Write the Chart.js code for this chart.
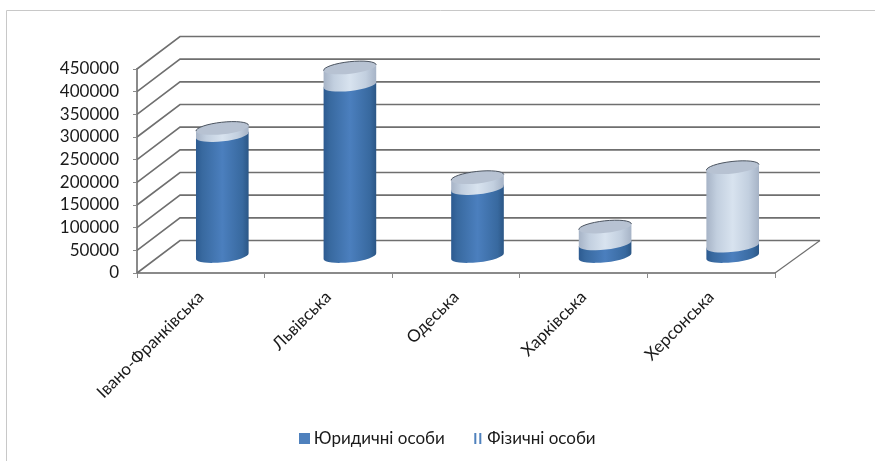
<!DOCTYPE html>
<html>
<head>
<meta charset="utf-8">
<script src="https://cdn.jsdelivr.net/npm/chart.js@4/dist/chart.umd.js"></script>
<style>
  html, body { margin: 0; padding: 0; background: #fff; }
  #wrap { width: 875px; height: 461px; }
</style>
</head>
<body>
<div id="wrap"><canvas id="myChart" width="875" height="461"></canvas></div>
<script>
const categories = ["Івано-Франківська", "Львівська", "Одеська", "Харківська", "Херсонська"];
const legalPersons = [268000, 379000, 151000, 29000, 24000];
const individuals = [15500, 38000, 24000, 37000, 173000];

// depth of the fake 3d box, in pixels
const depthX = 43;
const depthY = -32.5;
const tilt = -0.11;
const capRadiusY = 6;

function sideGradient(ctx, left, right, stops) {
  const g = ctx.createLinearGradient(left, 0, right, 0);
  stops.forEach((s) => g.addColorStop(s[0], s[1]));
  return g;
}

const seriesLook = [
  { stops: [[0, "#2c5a90"], [0.12, "#38699f"], [0.5, "#4b7fbe"], [0.88, "#38699f"], [1, "#2b5685"]], top: "#4f81bd" },
  { stops: [[0, "#a6b3c6"], [0.2, "#c2cfdf"], [0.5, "#d8e3ef"], [0.8, "#c2cfdf"], [1, "#a6b3c6"]], top: "#b7c2d2" }
];

// back wall, side wall and floor behind the bars
const boxPlugin = {
  id: "box",
  beforeDatasetsDraw(chart) {
    const ctx = chart.ctx;
    const y = chart.scales.y;
    const a = chart.chartArea;
    ctx.save();
    ctx.strokeStyle = "#6f6f6f";
    ctx.lineWidth = 1.6;
    y.ticks.forEach((t) => {
      const py = y.getPixelForValue(t.value);
      ctx.beginPath();
      ctx.moveTo(a.left, py);
      ctx.lineTo(a.left + depthX, py + depthY);
      ctx.lineTo(a.right + depthX + 2, py + depthY);
      ctx.stroke();
    });
    const floor = y.getPixelForValue(0);
    ctx.lineWidth = 1.2;
    ctx.beginPath();
    ctx.moveTo(a.right, floor);
    ctx.lineTo(a.right + depthX + 2, floor + depthY);
    ctx.stroke();
    ctx.restore();
  },
  beforeDraw(chart) {
    const ctx = chart.ctx;
    ctx.save();
    ctx.strokeStyle = "#c8c8c8";
    ctx.lineWidth = 1;
    ctx.beginPath();
    ctx.moveTo(6.5, chart.height);
    ctx.lineTo(6.5, 10.5);
    ctx.lineTo(chart.width, 10.5);
    ctx.stroke();
    ctx.restore();
  }
};

// draws each stacked bar element as a cylinder standing mid-way in the box
const cylinderPlugin = {
  id: "cylinder",
  beforeDatasetDraw() {
    return false; // plain rectangles are replaced below
  },
  afterDatasetsDraw(chart) {
    const ctx = chart.ctx;
    const lastSeries = chart.data.datasets.length - 1;
    // bottom series first, the library itself would go the other way round
    chart.data.datasets.forEach((ds, i) => {
      const look = seriesLook[i];
      chart.getDatasetMeta(i).data.forEach((bar) => {
        const cx = bar.x + depthX / 2;
        const rx = bar.width / 2;
        const topY = bar.y + depthY / 2;
        const baseY = bar.base + depthY / 2;
        ctx.save();
        ctx.beginPath();
        ctx.ellipse(cx, baseY, rx, capRadiusY, tilt, 0, Math.PI);
        ctx.ellipse(cx, topY, rx, capRadiusY, tilt, Math.PI, 2 * Math.PI);
        ctx.closePath();
        ctx.fillStyle = sideGradient(ctx, cx - rx, cx + rx, look.stops);
        ctx.fill();
        if (i === lastSeries) {
          ctx.beginPath();
          ctx.ellipse(cx, topY, rx, capRadiusY, tilt, 0, 2 * Math.PI);
          ctx.fillStyle = look.top;
          ctx.fill();
          ctx.beginPath();
          ctx.ellipse(cx, topY, rx, capRadiusY, tilt, Math.PI, 2 * Math.PI);
          ctx.strokeStyle = "#4d5560";
          ctx.lineWidth = 1;
          ctx.stroke();
        }
        ctx.restore();
      });
    });
  }
};

function squareMarker() {
  const c = document.createElement("canvas");
  c.width = 11;
  c.height = 11;
  const g = c.getContext("2d");
  g.fillStyle = "#4f81bd";
  g.fillRect(0, 0, 11, 11);
  return c;
}

function stripesMarker() {
  const c = document.createElement("canvas");
  c.width = 11;
  c.height = 11;
  const g = c.getContext("2d");
  g.fillStyle = "#4f81bd";
  g.fillRect(2, 0, 2, 11);
  g.fillRect(7, 0, 2, 11);
  return c;
}

const ctx = document.getElementById("myChart").getContext("2d");
new Chart(ctx, {
  type: "bar",
  data: {
    labels: categories,
    datasets: [
      { label: "Юридичні особи", data: legalPersons, backgroundColor: "#4f81bd", categoryPercentage: 1, barPercentage: 0.415, pointStyle: squareMarker() },
      { label: "Фізичні особи", data: individuals, backgroundColor: "#c3d2e2", categoryPercentage: 1, barPercentage: 0.415, pointStyle: stripesMarker() }
    ]
  },
  options: {
    responsive: false,
    animation: false,
    layout: { padding: { left: 25, right: 1, top: 69, bottom: 4 } },
    plugins: {
      tooltip: { enabled: false },
      legend: {
        position: "bottom",
        labels: {
          usePointStyle: true,
          pointStyleWidth: 2,
          color: "#1a1a1a",
          padding: 32,
          boxHeight: 11,
          font: { family: "Lato", size: 17 }
        }
      }
    },
    scales: {
      x: {
        stacked: true,
        afterFit(scale) { scale.height = 125; },
        grid: { drawOnChartArea: false, color: "#8a8a8a", tickLength: 5 },
        border: { color: "#8a8a8a", width: 2 },
        ticks: { autoSkip: false, minRotation: 45, maxRotation: 45, padding: 9, color: "#1a1a1a", font: { family: "Lato", size: 17 } }
      },
      y: {
        stacked: true,
        min: 0,
        max: 450000,
        afterFit(scale) { scale.width = 112; },
        grid: { drawOnChartArea: false, color: "#8a8a8a", tickLength: 4 },
        border: { color: "#8a8a8a", width: 2 },
        ticks: { autoSkip: false, stepSize: 50000, padding: 14, color: "#1a1a1a", font: { family: "Lato", size: 17 }, callback: (v) => String(v) }
      },
      // empty axis, only reserves the room the box depth needs on the right
      spare: {
        position: "right",
        afterFit(scale) { scale.width = 99; },
        grid: { display: false },
        border: { display: false },
        ticks: { display: false }
      }
    }
  },
  plugins: [boxPlugin, cylinderPlugin]
});
</script>
</body>
</html>
